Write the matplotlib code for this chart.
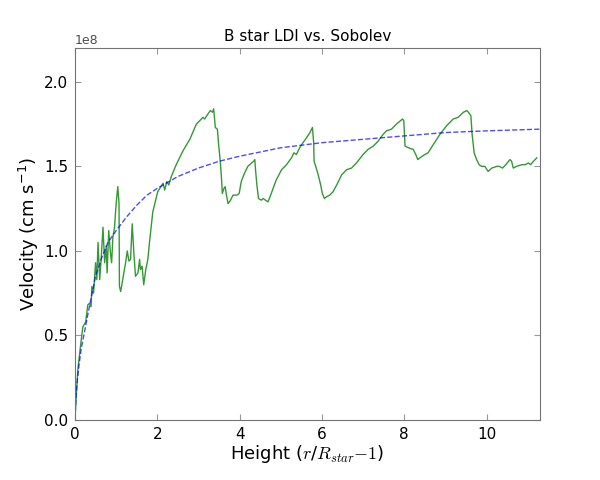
import matplotlib
matplotlib.use("Agg")
import matplotlib.pyplot as plt

plt.rcParams['mathtext.fontset'] = 'cm'
plt.rcParams['mathtext.default'] = 'regular'

# Sobolev (beta law) curve
sob_h = [0.0, 0.02, 0.05, 0.1, 0.15, 0.23, 0.3, 0.4, 0.5, 0.65, 0.8, 1.0, 1.25, 1.5, 1.75,
         2.0, 2.5, 3.0, 3.5, 4.0, 5.0, 6.0, 7.0, 8.0, 9.0, 10.0, 11.3]
sob_v = [0.0, 0.12, 0.22, 0.33, 0.42, 0.52, 0.61, 0.73, 0.85, 0.96, 1.05, 1.12, 1.20, 1.27, 1.33,
         1.37, 1.44, 1.49, 1.53, 1.56, 1.61, 1.64, 1.66, 1.68, 1.70, 1.71, 1.72]

# LDI simulation
ldi_h = [0.0, 0.03, 0.07, 0.13, 0.19, 0.26, 0.31, 0.35, 0.39, 0.41, 0.45, 0.50, 0.53, 0.56,
         0.60, 0.64, 0.68, 0.72, 0.76, 0.78, 0.82, 0.86, 0.89, 0.92, 0.96, 1.00, 1.04, 1.07,
         1.075, 1.08, 1.11, 1.16, 1.23, 1.27, 1.31, 1.35, 1.39, 1.43, 1.47, 1.53, 1.57, 1.59,
         1.63, 1.67, 1.72, 1.77, 1.81, 1.89, 2.01, 2.14, 2.18, 2.23, 2.28, 2.34, 2.46, 2.62,
         2.79, 2.95, 3.03, 3.11, 3.15, 3.23, 3.29, 3.34, 3.37, 3.41, 3.46, 3.49, 3.53, 3.56,
         3.58, 3.62, 3.65, 3.68, 3.72, 3.78, 3.84, 3.94, 3.99, 4.04, 4.12, 4.20, 4.29, 4.34,
         4.37, 4.39, 4.42, 4.46, 4.53, 4.57, 4.63, 4.69, 4.77, 4.89, 5.02, 5.14, 5.26, 5.32,
         5.38, 5.46, 5.54, 5.63, 5.71, 5.77, 5.80, 5.81, 5.85, 5.91, 5.97, 6.01, 6.06, 6.11,
         6.19, 6.27, 6.36, 6.48, 6.60, 6.72, 6.84, 7.00, 7.12, 7.25, 7.37, 7.49, 7.57, 7.69,
         7.81, 7.96, 7.99, 8.02, 8.10, 8.22, 8.28, 8.33, 8.38, 8.50, 8.58, 8.71, 8.87, 9.03,
         9.19, 9.31, 9.44, 9.52, 9.56, 9.62, 9.65, 9.70, 9.76, 9.82, 9.88, 9.96, 10.04, 10.13,
         10.25, 10.31, 10.39, 10.47, 10.57, 10.61, 10.65, 10.73, 10.86, 10.94, 11.02, 11.07,
         11.14, 11.22]
ldi_v = [0.01, 0.14, 0.30, 0.43, 0.55, 0.58, 0.68, 0.69, 0.67, 0.79, 0.75, 0.93, 0.83, 1.05,
         0.83, 0.97, 1.14, 0.93, 1.03, 0.87, 1.12, 0.99, 0.93, 1.08, 1.14, 1.28, 1.38, 1.28,
         1.04, 0.79, 0.76, 0.83, 0.93, 1.00, 0.94, 0.95, 1.16, 0.99, 0.85, 0.87, 0.95, 0.89,
         0.91, 0.80, 0.89, 0.95, 1.05, 1.23, 1.35, 1.40, 1.36, 1.41, 1.39, 1.44, 1.51, 1.59,
         1.66, 1.75, 1.77, 1.79, 1.78, 1.81, 1.83, 1.82, 1.84, 1.73, 1.72, 1.63, 1.53, 1.43,
         1.34, 1.37, 1.38, 1.33, 1.28, 1.30, 1.33, 1.33, 1.34, 1.41, 1.46, 1.50, 1.52, 1.53,
         1.54, 1.47, 1.39, 1.31, 1.30, 1.31, 1.30, 1.29, 1.34, 1.42, 1.48, 1.51, 1.55, 1.58,
         1.57, 1.61, 1.64, 1.67, 1.70, 1.73, 1.64, 1.53, 1.50, 1.45, 1.39, 1.34, 1.31, 1.32,
         1.33, 1.35, 1.39, 1.45, 1.48, 1.49, 1.52, 1.57, 1.60, 1.62, 1.65, 1.69, 1.71, 1.72,
         1.75, 1.78, 1.77, 1.62, 1.61, 1.60, 1.57, 1.54, 1.55, 1.57, 1.58, 1.63, 1.69, 1.74,
         1.78, 1.79, 1.82, 1.83, 1.82, 1.80, 1.69, 1.58, 1.54, 1.51, 1.50, 1.50, 1.47, 1.49,
         1.50, 1.50, 1.49, 1.51, 1.54, 1.53, 1.49, 1.50, 1.51, 1.51, 1.52, 1.51,
         1.53, 1.55]

scale = 1e8

fig = plt.figure(figsize=(6, 4.8), dpi=100)
ax = fig.add_axes([0.125, 0.125, 0.775, 0.775])

ax.plot(ldi_h, [v * scale for v in ldi_v], color='green', lw=1.0, alpha=0.8)
ax.plot(sob_h, [v * scale for v in sob_v], 'b--', lw=1.0, alpha=0.7)

ax.set_xlim(0, 11.3)
ax.set_ylim(0, 2.2e8)
ax.set_xticks([0, 2, 4, 6, 8, 10])
ax.set_yticks([0, 0.5e8, 1.0e8, 1.5e8, 2.0e8])

for s in ax.spines.values():
    s.set_color('0.45')
ax.tick_params(direction='in', top=True, right=True, length=4, color='0.6',
               labelsize=11, labelcolor='black', pad=5)
ax.yaxis.get_offset_text().set_fontsize(9)
ax.yaxis.get_offset_text().set_color('0.3')

ax.set_title("B star LDI vs. Sobolev", fontsize=11, pad=5)
ax.set_xlabel(r"Height ($\mathit{r}/\mathit{R}_{\mathit{star}}\mathrm{-1}$)", fontsize=13, labelpad=1)
ax.set_ylabel(r"Velocity (cm s$^{-1}$)", fontsize=13, labelpad=2)

fig.savefig("out.png", dpi=100)
